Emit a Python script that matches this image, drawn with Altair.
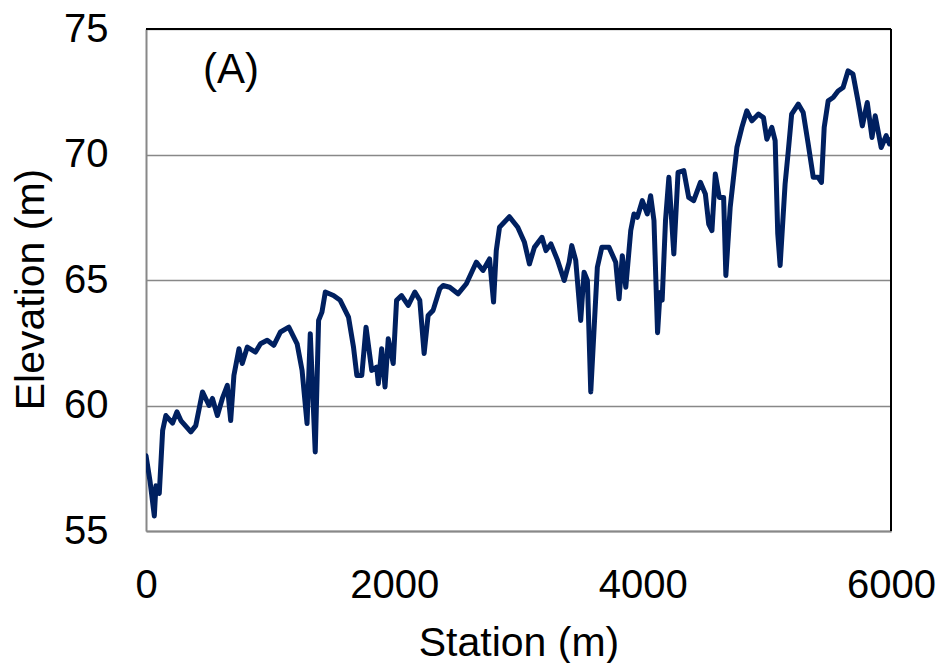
import altair as alt
import pandas as pd

station = [0, 32, 67, 80, 107, 134, 160, 214, 249, 281, 361, 401, 455, 508, 535, 575, 615, 655, 682, 708,
           749, 775, 816, 882, 922, 976, 1029, 1083, 1150, 1217, 1257, 1297, 1323, 1363, 1390, 1417, 1444,
           1510, 1564, 1631, 1671, 1698, 1738, 1772, 1818, 1858, 1871, 1898, 1925, 1951, 1991, 2018, 2058,
           2112, 2165, 2205, 2240, 2272, 2312, 2366, 2393, 2446, 2513, 2580, 2660, 2714, 2767, 2799, 2821,
           2847, 2927, 2994, 3048, 3088, 3128, 3189, 3221, 3261, 3315, 3368, 3408, 3429, 3461, 3501, 3528,
           3555, 3582, 3635, 3671, 3729, 3783, 3810, 3836, 3864, 3904, 3930, 3957, 3997, 4037, 4064, 4091,
           4120, 4140, 4157, 4184, 4211, 4251, 4285, 4331, 4371, 4411, 4465, 4505, 4532, 4558, 4585, 4617,
           4652, 4670, 4705, 4732, 4759, 4799, 4839, 4880, 4933, 4973, 5000, 5040, 5067, 5088, 5107, 5147,
           5173, 5200, 5253, 5293, 5333, 5374, 5414, 5440, 5462, 5494, 5534, 5574, 5614, 5654, 5694, 5734,
           5769, 5809, 5847, 5873, 5921, 5961, 5988, 6000]
elevation = [58.0, 57.0, 55.6, 56.8, 56.5, 59.0, 59.6, 59.3, 59.75, 59.4, 58.95, 59.2, 60.54, 60.0, 60.28,
             59.6, 60.28, 60.8, 59.4, 61.2, 62.26, 61.67, 62.33, 62.13, 62.46, 62.6, 62.4, 62.93, 63.12,
             62.46, 61.4, 59.28, 62.86, 58.15, 63.39, 63.72, 64.52, 64.38, 64.19, 63.52, 62.33, 61.2, 61.2,
             63.12, 61.4, 61.53, 60.87, 62.26, 60.74, 62.66, 61.67, 64.19, 64.38, 63.99, 64.52, 64.19, 62.07,
             63.59, 63.79, 64.65, 64.78, 64.71, 64.45, 64.85, 65.71, 65.38, 65.84, 64.12, 66.17, 67.1, 67.52,
             67.1, 66.5, 65.64, 66.3, 66.7, 66.17, 66.44, 65.78, 64.98, 65.71, 66.37, 65.78, 63.39, 65.31,
             64.98, 60.54, 65.51, 66.3, 66.3, 65.71, 64.25, 65.97, 64.71, 66.97, 67.63, 67.5, 68.16, 67.63,
             68.36, 67.37, 62.9, 64.5, 64.2, 67.37, 69.09, 66.04, 69.29, 69.36, 68.29, 68.16, 68.89, 68.43,
             67.23, 66.97, 69.22, 68.29, 68.29, 65.18, 67.9, 69.09, 70.28, 71.08, 71.74, 71.34, 71.61, 71.47,
             70.61, 71.08, 70.55, 66.84, 65.58, 68.82, 70.15, 71.61, 72.01, 71.67, 70.42, 69.09, 69.09, 68.89,
             71.08, 72.14, 72.27, 72.53, 72.67, 73.33, 73.2, 72.14, 71.14, 72.07, 70.68, 71.54, 70.28, 70.75,
             70.42, 70.61]

x_ticks = [0, 2000, 4000, 6000]
y_ticks = [55, 60, 65, 70, 75]
panel_label = "(A)"
label_station = 460
label_elev = 72.85

df = pd.DataFrame({"Station": station, "Elevation": elevation})

W, H = 745, 502
FONT = "Liberation Sans"

x_enc = alt.X("Station:Q",
              scale=alt.Scale(domain=[0, 6000], nice=False),
              axis=alt.Axis(title="Station (m)", values=x_ticks, format="d", grid=False, ticks=False,
                            domain=True, domainColor="#888888", domainWidth=2,
                            labelFont=FONT, labelFontSize=40, labelColor="black",
                            labelBaseline="alphabetic", labelPadding=66, labelFlush=False,
                            labelOverlap=False,
                            titleFont=FONT, titleFontSize=41, titleFontWeight="normal",
                            titleColor="black", titleX=W / 2, titleY=124,
                            titleBaseline="alphabetic", titleAlign="center"))
y_enc = alt.Y("Elevation:Q",
              scale=alt.Scale(domain=[55, 75], nice=False, zero=False),
              axis=alt.Axis(title="Elevation (m)", values=y_ticks, format="d", grid=True,
                            gridColor="#888888", gridWidth=1.5, ticks=False,
                            domain=True, domainColor="#888888", domainWidth=2,
                            labelFont=FONT, labelFontSize=40, labelColor="black",
                            labelPadding=38, labelFlush=False, labelOverlap=False,
                            titleFont=FONT, titleFontSize=41, titleFontWeight="normal",
                            titleColor="black", titleAngle=270, titleX=-103, titleY=260,
                            titleBaseline="alphabetic", titleAlign="center"))

line = alt.Chart(df).mark_line(color="#002060", strokeWidth=5, strokeJoin="round",
                               strokeCap="round", clip=True).encode(x=x_enc, y=y_enc)

top_border = alt.Chart(df).mark_rule(color="black", strokeWidth=2).encode(
    x=alt.value(0), x2=alt.value(W), y=alt.value(0))
right_border = alt.Chart(df).mark_rule(color="black", strokeWidth=2).encode(
    x=alt.value(W), y=alt.value(0), y2=alt.value(H))

label_df = pd.DataFrame({"Station": [label_station], "Elevation": [label_elev], "t": [panel_label]})
label = alt.Chart(label_df).mark_text(font=FONT, fontSize=42, fontWeight="normal", color="black",
                                      align="left", baseline="alphabetic").encode(
    x=alt.X("Station:Q"), y=alt.Y("Elevation:Q"), text="t:N")

chart = alt.layer(line, top_border, right_border, label).properties(
    width=W, height=H,
    autosize=alt.AutoSizeParams(type="none"),
    padding={"left": 146, "top": 29, "right": 52, "bottom": 132},
    background="white",
).configure_view(stroke=None)

chart.save("out.html", embed_options={"renderer": "svg", "actions": False})
